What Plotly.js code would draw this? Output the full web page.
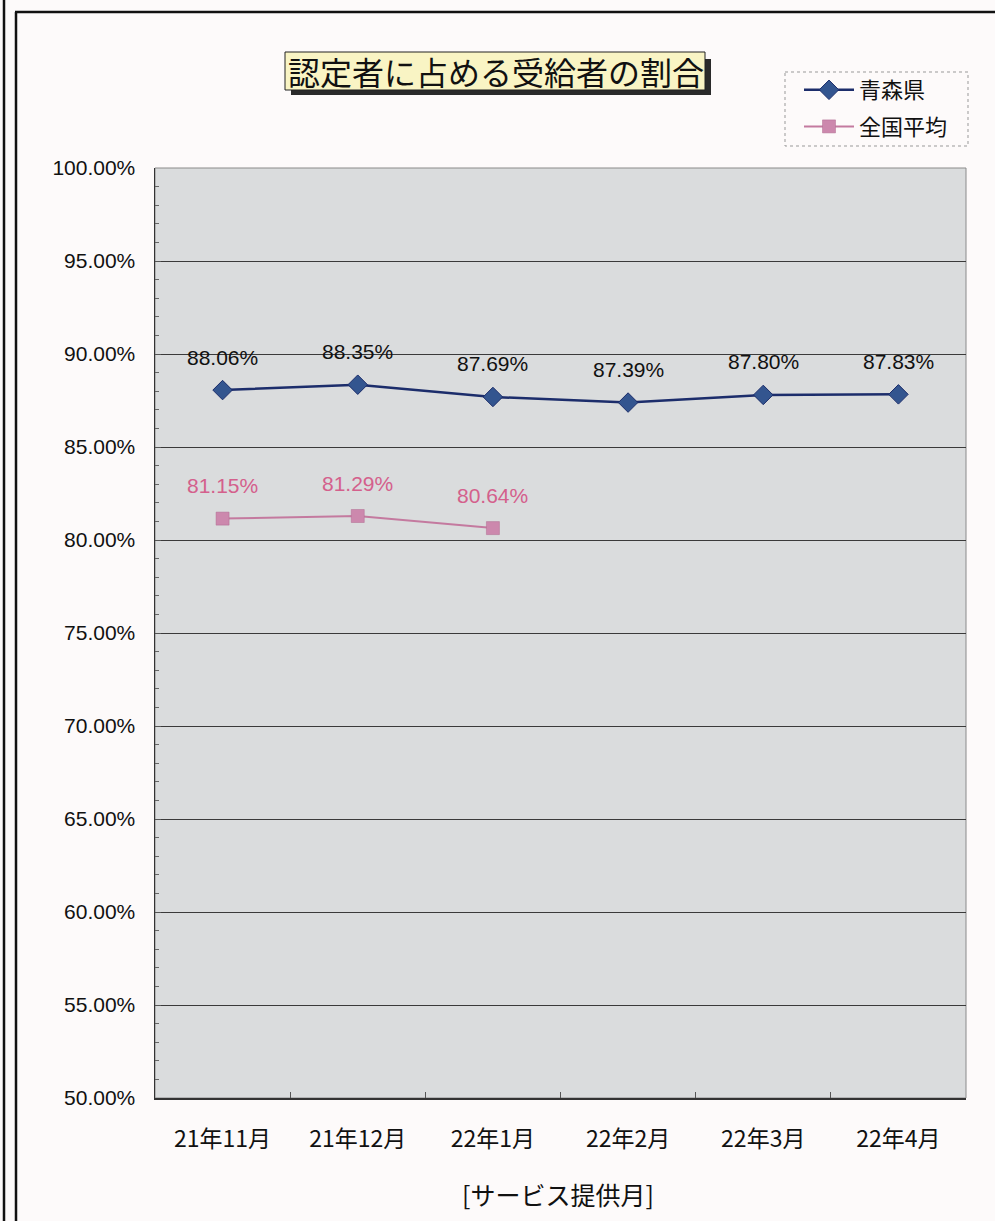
<!DOCTYPE html>
<html>
<head>
<meta charset="utf-8">
<script src="https://cdn.plot.ly/plotly-3.0.1.min.js"></script>
<style>
html,body{margin:0;padding:0;background:#fdfafa;}
#chart{width:995px;height:1221px;}
</style>
</head>
<body>
<div id="chart"></div>
<script>
// ---- data ----
const categories = ["21年11月", "21年12月", "22年1月", "22年2月", "22年3月", "22年4月"];
const aomoriName = "青森県";
const aomoriValues = [0.8806, 0.8835, 0.8769, 0.8739, 0.8780, 0.8783];
const nationalName = "全国平均";
const nationalValues = [0.8115, 0.8129, 0.8064, null, null, null];
const chartTitle = "認定者に占める受給者の割合";
const xAxisTitle = "[サービス提供月]";

// ---- layout helpers (pixel -> paper) ----
const W = 995, H = 1221;
const M = {l: 155, r: 29, t: 168, b: 123};
const PW = W - M.l - M.r, PH = H - M.t - M.b;
const px = x => (x - M.l) / PW;
const py = y => (H - M.b - y) / PH;

const JP = '"Noto Sans CJK JP", "Liberation Sans", sans-serif';
const NUM = '"Liberation Sans", Arial, sans-serif';

const blue = '#1c2d6b', blueMarker = '#33558f';
const pink = '#c47a9f', pinkMarker = '#cc88ad', pinkText = '#d4608c';

const traces = [
  {
    x: categories, y: aomoriValues, name: aomoriName, type: 'scatter', mode: 'lines+markers',
    legendgroup: 'a',
    line: {color: blue, width: 2.5},
    marker: {symbol: 'diamond', size: 15, color: blueMarker, line: {color: blue, width: 1}},
    hoverinfo: 'skip'
  },
  {
    x: categories, y: nationalValues, name: nationalName, type: 'scatter', mode: 'lines+markers',
    legendgroup: 'b',
    line: {color: pink, width: 2},
    marker: {symbol: 'square', size: 13, color: pinkMarker, line: {color: '#b06a90', width: 0.5}},
    connectgaps: false, hoverinfo: 'skip'
  }
];

const annotations = [];
aomoriValues.forEach((v, i) => {
  if (v == null) return;
  annotations.push({x: categories[i], y: v, xref: 'x', yref: 'y', text: (v * 100).toFixed(2) + '%',
    showarrow: false, yshift: 33, yanchor: 'middle', font: {family: NUM, size: 21, color: '#111'}});
});
nationalValues.forEach((v, i) => {
  if (v == null) return;
  annotations.push({x: categories[i], y: v, xref: 'x', yref: 'y', text: (v * 100).toFixed(2) + '%',
    showarrow: false, yshift: 33, yanchor: 'middle', font: {family: NUM, size: 21, color: pinkText}});
});
// title
annotations.push({xref: 'paper', yref: 'paper', x: px(496), y: py(71), xanchor: 'center', yanchor: 'middle',
  text: chartTitle, showarrow: false, font: {family: JP, size: 32, color: '#111'}});
// x axis title
annotations.push({xref: 'paper', yref: 'paper', x: px(558), y: py(1194), xanchor: 'center', yanchor: 'middle',
  text: xAxisTitle, showarrow: false, font: {family: JP, size: 25, color: '#111'}});

const shapes = [
  // outer frame lines
  {type: 'line', xref: 'paper', yref: 'paper', x0: px(4), x1: px(4), y0: py(0), y1: py(H), line: {color: '#111', width: 2.5}},
  {type: 'line', xref: 'paper', yref: 'paper', x0: px(16), x1: px(16), y0: py(12), y1: py(H), line: {color: '#111', width: 2.5}},
  {type: 'line', xref: 'paper', yref: 'paper', x0: px(15), x1: px(W), y0: py(12), y1: py(12), line: {color: '#111', width: 2.5}},
  // title box shadow and box
  {type: 'rect', xref: 'paper', yref: 'paper', x0: px(291), x1: px(711), y0: py(59), y1: py(95), fillcolor: '#2a2a2a', line: {width: 0}},
  {type: 'rect', xref: 'paper', yref: 'paper', x0: px(285), x1: px(705), y0: py(52), y1: py(90), fillcolor: '#f9f4c4', line: {color: '#222', width: 1}},
  // legend box
  {type: 'rect', xref: 'paper', yref: 'paper', x0: px(785), x1: px(968), y0: py(72), y1: py(146), fillcolor: '#fdfafa', line: {color: '#999', width: 1, dash: 'dot'}},
  // plot top/right border
  {type: 'rect', xref: 'paper', yref: 'paper', x0: 0, x1: 1, y0: 0, y1: 1, line: {color: '#8a8a8a', width: 1}, layer: 'below'}
];

const layout = {
  width: W, height: H,
  margin: M,
  paper_bgcolor: '#fdfafa',
  plot_bgcolor: '#dadcdd',
  showlegend: true,
  legend: {x: px(799), y: py(69), xanchor: 'left', yanchor: 'top', bgcolor: 'rgba(0,0,0,0)', borderwidth: 0,
    font: {family: JP, size: 22, color: '#111'}, traceorder: 'grouped', tracegroupgap: 5, itemwidth: 50},
  xaxis: {
    type: 'category', range: [-0.5, 5.5], fixedrange: true,
    showline: true, linecolor: '#333', linewidth: 1.5,
    showgrid: false, zeroline: false,
    ticks: 'inside', tickson: 'boundaries', ticklen: 6, tickcolor: '#555',
    tickfont: {family: JP, size: 23, color: '#111'}, ticklabelstandoff: 20
  },
  yaxis: {
    range: [0.5, 1.0], dtick: 0.05, tickformat: '.2%', fixedrange: true,
    showline: true, linecolor: '#333', linewidth: 1.5,
    showgrid: true, gridcolor: '#3a3a3a', gridwidth: 1, zeroline: false,
    ticks: 'inside', ticklen: 6, tickcolor: '#555',
    minor: {dtick: 0.01, ticks: 'inside', ticklen: 4, tickcolor: '#666', showgrid: false},
    tickfont: {family: NUM, size: 21, color: '#111'}, ticklabelstandoff: 14
  },
  annotations: annotations,
  shapes: shapes
};

Plotly.newPlot('chart', traces, layout, {displayModeBar: false, staticPlot: true});
</script>
</body>
</html>
